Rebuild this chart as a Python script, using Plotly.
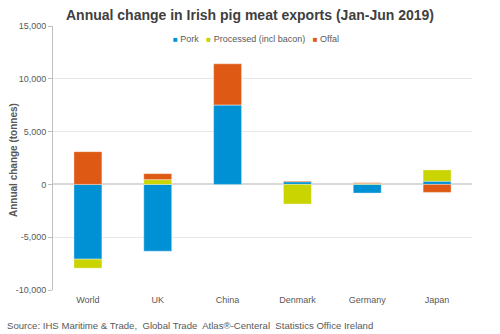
import plotly.graph_objects as go

categories = ["World", "UK", "China", "Denmark", "Germany", "Japan"]
pork = [-7080, -6320, 7530, 250, -820, 300]
processed = [-850, 450, 0, -1860, 80, 1070]
offal = [3100, 570, 3890, 70, 80, -760]
tick_vals = [-10000, -5000, 0, 5000, 10000, 15000]
tick_text = ["-10,000", "-5,000", "0", "5,000", "10,000", "15,000"]

colors = {"Pork": "#0091D5", "Processed (incl bacon)": "#C9D400", "Offal": "#DE5A14"}
series = [("Pork", pork), ("Processed (incl bacon)", processed), ("Offal", offal)]

L, R, T, B = 53, 28, 26, 44
PW, PH = 500 - L - R, 334 - T - B


def px_x(px):
    return (px - L) / PW


def px_y(py):
    return (334 - B - py) / PH


fig = go.Figure()
for name, vals in series:
    fig.add_trace(go.Bar(x=categories, y=vals, name=name, showlegend=False,
                         marker=dict(color=colors[name], line=dict(width=0.6, color="rgba(255,255,255,0.6)"))))

fig.update_layout(
    width=500, height=334,
    barmode="relative", bargap=0.6,
    margin=dict(l=L, r=R, t=T, b=B),
    paper_bgcolor="white", plot_bgcolor="white",
    font=dict(family="Liberation Sans, Arial, sans-serif", size=9, color="#595959"),
    title=dict(text="<b>Annual change in Irish pig meat exports (Jan-Jun 2019)</b>",
               x=0.5, xref="container", y=0.955, yref="container", xanchor="center", yanchor="middle",
               font=dict(size=14, color="#404040")),
    showlegend=False,
    yaxis=dict(range=[-10000, 15000], tickvals=tick_vals, ticktext=tick_text, automargin=False,
               showgrid=True, gridcolor="#E8E8E8", gridwidth=1,
               zeroline=True, zerolinecolor="#D9D9D9", zerolinewidth=2,
               showline=True, linecolor="#BFBFBF", ticks="outside", ticklen=4, tickcolor="#BFBFBF",
               tickfont=dict(size=9, color="#595959")),
    xaxis=dict(showgrid=False, showline=False, ticks="", automargin=False, ticklabelstandoff=3,
               tickfont=dict(size=9, color="#595959")),
)

# axis title
fig.add_annotation(text="<b>Annual change (tonnes)</b>", textangle=-90,
                   xref="paper", yref="paper", x=px_x(13), y=px_y(160), xanchor="center", yanchor="middle",
                   showarrow=False, font=dict(size=10, color="#595959"))

# compact legend
legend_parts = []
for name, _ in series:
    legend_parts.append('<span style="color:%s;font-size:8px">\u25A0</span> %s' % (colors[name], name))
fig.add_annotation(text="   ".join(legend_parts),
                   xref="paper", yref="paper", x=px_x(256), y=px_y(39),
                   xanchor="center", yanchor="middle", showarrow=False,
                   font=dict(size=9, color="#595959"))

fig.add_annotation(text="Source: IHS Maritime & Trade,  Global Trade  Atlas\u00ae-Centeral  Statistics Office Ireland",
                   xref="paper", yref="paper", x=px_x(5), y=px_y(326), xanchor="left", yanchor="middle",
                   showarrow=False, font=dict(size=9.6, color="#595959"))

fig.write_html("out.html")
